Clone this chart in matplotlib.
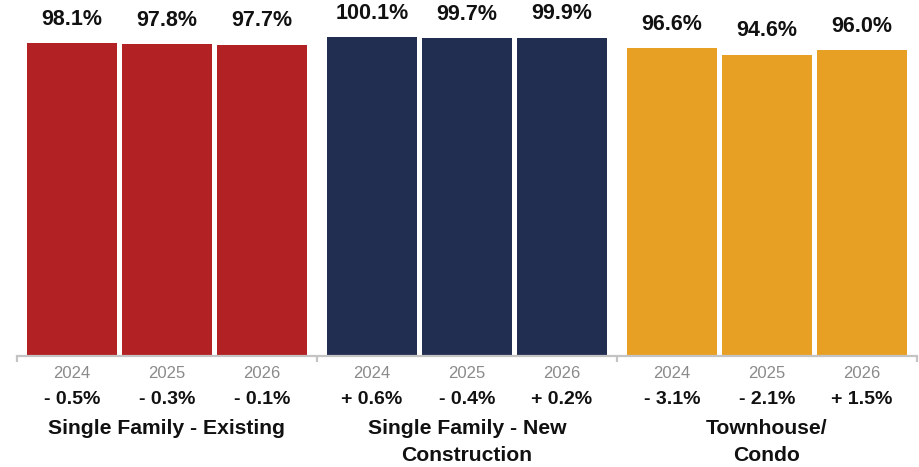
import matplotlib.pyplot as plt

plt.rcParams['font.family'] = ['Liberation Sans', 'DejaVu Sans']

groups = ['Single Family - Existing', 'Single Family - New\nConstruction', 'Townhouse/\nCondo']
years = ['2024', '2025', '2026']
values = [[98.1, 97.8, 97.7],
          [100.1, 99.7, 99.9],
          [96.6, 94.6, 96.0]]
changes = [['- 0.5%', '- 0.3%', '- 0.1%'],
           ['+ 0.6%', '- 0.4%', '+ 0.2%'],
           ['- 3.1%', '- 2.1%', '+ 1.5%']]
colors = ['#B22224', '#222D52', '#E8A024']


def main():
    fig = plt.figure(figsize=(9.2, 4.67), dpi=100)
    ax = fig.add_axes([17 / 920, 111 / 467, 900 / 920, 356 / 467])

    for g, (vals, chg, color) in enumerate(zip(values, changes, colors)):
        for i, v in enumerate(vals):
            x = g * 3 + 1.5 + (i - 1) * 0.95
            ax.bar(x, v, width=0.9, color=color, zorder=2)
            ax.annotate(f'{v:.1f}%', (x, v), xytext=(0, 9.5),
                        textcoords='offset points', ha='center', va='bottom',
                        fontsize=15.5, fontweight='bold', color='#111111')
            ax.annotate(years[i], (x, 0), xycoords=('data', 'axes fraction'),
                        xytext=(0, -12.5), textcoords='offset points',
                        ha='center', va='center', fontsize=12, color='#8a8a8a')
            ax.annotate(chg[i], (x, 0), xycoords=('data', 'axes fraction'),
                        xytext=(0, -31.5), textcoords='offset points',
                        ha='center', va='center', fontsize=14,
                        fontweight='bold', color='#111111')
        ax.annotate(groups[g], (g * 3 + 1.5, 0), xycoords=('data', 'axes fraction'),
                    xytext=(0, -45.5), textcoords='offset points',
                    ha='center', va='top', fontsize=15.2, fontweight='bold',
                    color='#111111', linespacing=1.55)

    ax.set_xlim(0, 9)
    ax.set_ylim(0, 356 / 3.187)
    for side in ['top', 'right', 'left']:
        ax.spines[side].set_visible(False)
    ax.spines['bottom'].set_color('#c4c4c4')
    ax.spines['bottom'].set_linewidth(1.6)
    ax.set_yticks([])
    ax.set_xticks([0, 3, 6, 9])
    ax.set_xticklabels([])
    ax.tick_params(axis='x', length=4.5, width=1.6, color='#c4c4c4', direction='out')

    fig.savefig('out.png', dpi=100)


main()
